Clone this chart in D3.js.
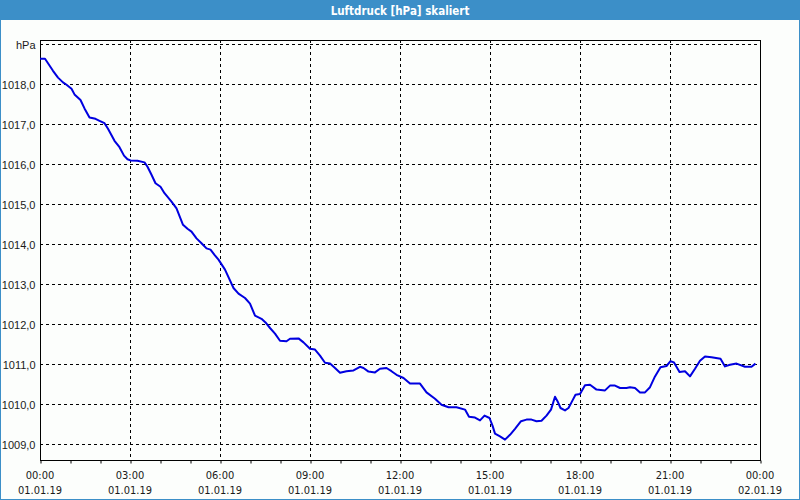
<!DOCTYPE html>
<html>
<head>
<meta charset="utf-8">
<script src="https://cdn.jsdelivr.net/npm/d3@7"></script>
<style>
  body { margin: 0; background: #fff; }
  svg { display: block; font-family: "DejaVu Sans Condensed", "DejaVu Sans", sans-serif; }
</style>
</head>
<body>
<svg id="chart"></svg>
<script>
// Chart data: minutes after 01.01.19 00:00 and pressure in hPa
const minutes = [0, 10, 16, 26, 36, 46, 53, 63, 69, 81, 89, 99, 111, 119, 129, 136, 149, 159, 168, 175,
  181, 195, 209, 215, 223, 231, 241, 249, 263, 273, 286, 295, 303, 313, 323, 333, 341, 349, 357, 370,
  387, 397, 410, 420, 430, 443, 451, 460, 470, 480, 493, 500, 517, 527, 540, 550, 560, 570, 580, 590,
  600, 613, 627, 640, 647, 657, 670, 680, 693, 703, 713, 727, 740, 760, 773, 790, 803, 817, 833, 850,
  858, 870, 880, 889, 899, 905, 910, 920, 930, 940, 950, 962, 973, 983, 993, 1003, 1013, 1022, 1030, 1035,
  1041, 1050, 1057, 1063, 1071, 1080, 1090, 1100, 1113, 1130, 1140, 1150, 1160, 1173, 1180, 1190, 1200, 1210, 1220, 1230,
  1241, 1253, 1261, 1268, 1279, 1290, 1300, 1310, 1320, 1330, 1343, 1361, 1370, 1380, 1393, 1410, 1423, 1431];
const pressure = [1018.63, 1018.63, 1018.52, 1018.33, 1018.16, 1018.04, 1017.98, 1017.88, 1017.74, 1017.60, 1017.39, 1017.16, 1017.13, 1017.08, 1017.02, 1016.88, 1016.58, 1016.42, 1016.21, 1016.12,
  1016.09, 1016.08, 1016.04, 1015.93, 1015.73, 1015.52, 1015.43, 1015.27, 1015.06, 1014.89, 1014.48, 1014.38, 1014.31, 1014.14, 1014.02, 1013.89, 1013.86, 1013.73, 1013.61, 1013.36,
  1012.90, 1012.76, 1012.65, 1012.51, 1012.21, 1012.13, 1012.04, 1011.90, 1011.76, 1011.58, 1011.57, 1011.63, 1011.64, 1011.54, 1011.38, 1011.36, 1011.21, 1011.03, 1011.01, 1010.90,
  1010.78, 1010.82, 1010.84, 1010.93, 1010.90, 1010.81, 1010.79, 1010.88, 1010.90, 1010.82, 1010.73, 1010.65, 1010.51, 1010.51, 1010.29, 1010.13, 1009.98, 1009.92, 1009.92, 1009.86,
  1009.68, 1009.66, 1009.59, 1009.71, 1009.65, 1009.46, 1009.26, 1009.19, 1009.11, 1009.23, 1009.38, 1009.57, 1009.61, 1009.61, 1009.57, 1009.58, 1009.71, 1009.86, 1010.18, 1010.07,
  1009.90, 1009.84, 1009.90, 1010.04, 1010.23, 1010.25, 1010.47, 1010.48, 1010.36, 1010.34, 1010.46, 1010.46, 1010.40, 1010.40, 1010.42, 1010.40, 1010.29, 1010.29, 1010.42, 1010.69,
  1010.92, 1010.95, 1011.07, 1011.04, 1010.80, 1010.82, 1010.69, 1010.88, 1011.08, 1011.19, 1011.17, 1011.13, 1010.94, 1010.98, 1011.01, 1010.93, 1010.93, 1011.01];
const yTicks = [1009, 1010, 1011, 1012, 1013, 1014, 1015, 1016, 1017, 1018, 1019];
const title = "Luftdruck [hPa] skaliert";
const unit = "hPa";

const W = 800, H = 500;
const margin = { top: 40, right: 40, bottom: 40, left: 40 };

const svg = d3.select("#chart").attr("width", W).attr("height", H);

// Background, frame and title bar
svg.append("rect").attr("width", W).attr("height", H).attr("fill", "#fcfefc");
svg.append("rect")
    .attr("x", 0.5).attr("y", 0.5).attr("width", W - 1).attr("height", H - 1)
    .attr("fill", "none").attr("stroke", "#3c8fc8");
svg.append("rect").attr("width", W).attr("height", 20).attr("fill", "#3c8fc8");
svg.append("text")
    .attr("x", W / 2).attr("y", 14.5)
    .attr("text-anchor", "middle")
    .attr("fill", "#fff")
    .style("font-size", "11.5px")
    .style("font-weight", "bold")
    .text(title);

const t0 = new Date(2019, 0, 1, 0, 0);
const t1 = new Date(2019, 0, 2, 0, 0);
const data = minutes.map((m, i) => ({ date: d3.timeMinute.offset(t0, m), value: pressure[i] }));

// Scales
const x = d3.scaleTime().domain([t0, t1]).range([margin.left, W - margin.right]);
const y = d3.scaleLinear().domain([1008.6, 1019.1]).range([H - margin.bottom, margin.top]);

const fmtTime = d3.timeFormat("%H:%M");
const fmtDate = d3.timeFormat("%d.%m.%y");
const fmtVal = v => d3.format(".1f")(v).replace(".", ",");

// Horizontal grid
svg.append("g")
    .selectAll("line")
    .data(yTicks)
  .join("line")
    .attr("x1", margin.left).attr("x2", W - margin.right)
    .attr("y1", d => Math.round(y(d)) + 0.5).attr("y2", d => Math.round(y(d)) + 0.5)
    .attr("stroke", "#000")
    .attr("stroke-dasharray", "3,3");

// Vertical grid every 3 hours
const majorTicks = d3.timeHour.every(3).range(d3.timeHour.offset(t0, 3), t1);
svg.append("g")
    .selectAll("line")
    .data(majorTicks)
  .join("line")
    .attr("x1", d => Math.round(x(d)) + 0.5).attr("x2", d => Math.round(x(d)) + 0.5)
    .attr("y1", margin.top).attr("y2", H - margin.bottom)
    .attr("stroke", "#000")
    .attr("stroke-dasharray", "3,3");

// Y axis
const yAxis = d3.axisLeft(y)
    .tickValues(yTicks)
    .tickSize(0)
    .tickPadding(5)
    .tickFormat(d => d === 1019 ? unit : fmtVal(d));
const yAxisGroup = svg.append("g")
    .attr("transform", `translate(${margin.left + 0.5},0.5)`)
    .call(yAxis);
yAxisGroup.select(".domain").remove();
yAxisGroup.selectAll("text")
    .attr("fill", "#1a1a1a")
    .style("font-size", "11px");

// X axis with hourly ticks, labels every 3 hours
const xAxis = d3.axisBottom(x)
    .ticks(d3.timeHour.every(1))
    .tickSize(3)
    .tickPadding(8)
    .tickFormat(() => "");
const xAxisGroup = svg.append("g")
    .attr("transform", `translate(0.5,${H - margin.bottom + 0.5})`)
    .call(xAxis);
xAxisGroup.select(".domain").remove();
xAxisGroup.selectAll("line").attr("stroke", "#000");

const labelTicks = d3.timeHour.every(3).range(t0, d3.timeMinute.offset(t1, 1));
const xLabels = svg.append("g")
    .selectAll("text")
    .data(labelTicks)
  .join("text")
    .attr("text-anchor", "middle")
    .attr("fill", "#1a1a1a")
    .style("font-size", "11px");
xLabels.append("tspan")
    .attr("x", d => x(d)).attr("y", 479)
    .text(d => fmtTime(d));
xLabels.append("tspan")
    .attr("x", d => x(d)).attr("y", 494)
    .text(d => fmtDate(d));

// Plot frame
svg.append("rect")
    .attr("x", margin.left + 0.5).attr("y", margin.top + 0.5)
    .attr("width", W - margin.left - margin.right)
    .attr("height", H - margin.top - margin.bottom)
    .attr("fill", "none")
    .attr("stroke", "#000");

// Pressure line
const line = d3.line()
    .x(d => x(d.date))
    .y(d => y(d.value));

svg.append("path")
    .datum(data)
    .attr("fill", "none")
    .attr("stroke", "#0000e0")
    .attr("stroke-width", 2)
    .attr("stroke-linejoin", "round")
    .attr("d", line);
</script>
</body>
</html>
